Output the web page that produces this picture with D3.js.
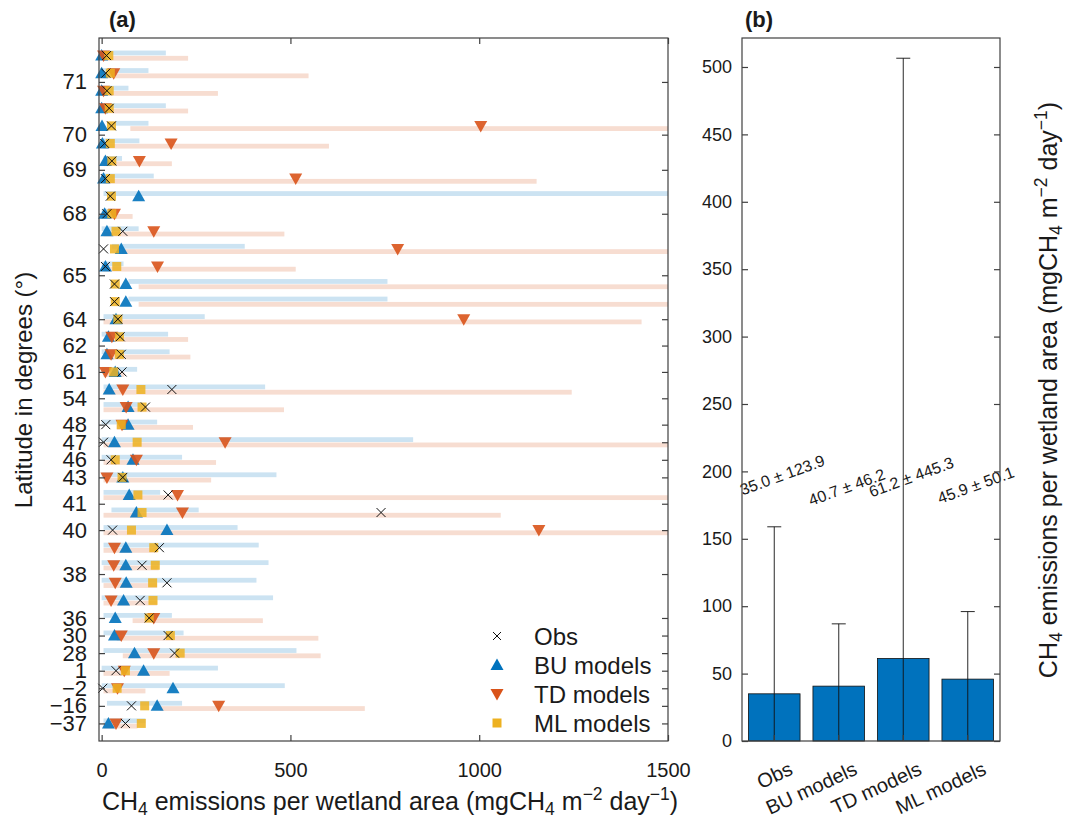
<!DOCTYPE html>
<html><head><meta charset="utf-8">
<script src="https://cdn.jsdelivr.net/npm/d3@7"></script>
<style>
body{margin:0;background:#fff}
text{font-family:"Liberation Sans",Arial,Helvetica,sans-serif;fill:#1a1a1a}
</style>
</head><body>
<svg id="c" width="1065" height="822"></svg>
<script>
// ---------- Panel (a) data: 39 sites, top to bottom ----------
const latLabels = ["71","70","69","68","65","64","62","61","54","48","47","46","43","41","40","38","36","30","28","1","\u22122","\u221216","\u221237"];
const latCounts = [4,2,2,3,4,1,2,1,2,1,1,1,1,2,1,4,1,1,1,1,1,1,1];

const obsVals = [13,11,14,20,26,8,27,10,23,14,56,5,10,34,34,43,49,52,54,186,116,11,5,25,56,176,740,29,153,107,173,102,126,176,193,38,3,79,63];
const buVals  = [0,0,0,0,1,2,10,5,98,8,14,52,10,64,64,38,18,14,36,20,70,70,34,83,56,73,92,173,64,64,65,58,36,34,87,111,189,147,18];
const tdVals  = [5,32,5,10,1004,184,100,514,null,34,138,784,148,null,null,959,27,25,10,56,65,54,327,92,14,201,214,1158,34,32,36,25,138,52,138,60,42,310,38];
const mlVals  = [19,23,20,20,26,23,27,23,26,27,38,34,40,36,36,43,47,47,32,104,107,52,94,36,54,96,107,79,138,142,135,136,126,182,208,63,41,114,105];

const buMin = [0,0,0,0,36,0,5,0,5,0,0,27,0,71,71,5,0,0,0,5,5,0,0,0,0,5,26,5,5,0,0,0,5,5,5,0,0,14,5];
const buMax = [170,124,71,170,124,100,54,138,1700,35,98,379,58,757,757,273,176,180,94,433,107,147,825,213,463,155,257,360,416,442,410,454,186,217,516,308,485,213,116];
const tdMin = [5,5,5,5,76,5,5,5,null,5,5,54,5,98,98,5,20,20,5,5,5,40,5,5,5,5,5,5,5,5,5,5,82,40,56,5,5,155,5];
const tdMax = [229,548,308,229,1700,602,186,1152,null,82,484,1700,514,1700,1700,1430,229,235,60,1245,483,242,1700,303,290,1700,1057,1700,147,151,147,147,427,574,580,180,116,697,95];

const xTicksA = [0,500,1000,1500];

// ---------- Panel (b) data ----------
const catsB  = ["Obs","BU models","TD models","ML models"];
const meansB = [35.0,40.7,61.2,45.9];
const sdsB   = [123.9,46.2,445.3,50.1];
const yTicksB = [0,50,100,150,200,250,300,350,400,450,500];

const BLUE="#0072BD", RED="#D95319", YEL="#EDB120", AX="#404040";
const svg = d3.select("#c");

// ================= Panel (a) =================
const L=99, R=668, T=38, B=741;
const xA = d3.scaleLinear().domain([-7,1500]).range([L,R]);
const yA = d3.scaleLinear().domain([0,40]).range([T,B]);

svg.append("clipPath").attr("id","clipA").append("rect")
  .attr("x",L).attr("y",T).attr("width",R-L).attr("height",B-T);

const rows = obsVals.map((d,i)=>({i:i+1,obs:d,bu:buVals[i],td:tdVals[i],ml:mlVals[i],
  b0:buMin[i],b1:buMax[i],t0:tdMin[i],t1:tdMax[i]}));

const gA = svg.append("g");
const gBars = gA.append("g").attr("clip-path","url(#clipA)");
gBars.selectAll(".bb").data(rows).join("rect")
  .attr("x",d=>xA(d.b0)).attr("width",d=>xA(d.b1)-xA(d.b0))
  .attr("y",d=>yA(d.i)-5).attr("height",4.8).attr("fill","#CCE3F2");
gBars.selectAll(".tb").data(rows.filter(d=>d.t0!==null)).join("rect")
  .attr("x",d=>xA(d.t0)).attr("width",d=>xA(d.t1)-xA(d.t0))
  .attr("y",d=>yA(d.i)+0.3).attr("height",4.8).attr("fill","#F7DDD1");

const tri = (x,y,up)=> up
  ? `M${x-6.5},${y+5}L${x+6.5},${y+5}L${x},${y-6.5}Z`
  : `M${x-6.5},${y-5}L${x+6.5},${y-5}L${x},${y+6.5}Z`;

gA.selectAll(".bu").data(rows.filter(d=>d.bu!==null)).join("path")
  .attr("d",d=>tri(xA(d.bu),yA(d.i),true)).attr("fill",BLUE).attr("fill-opacity",0.9);
gA.selectAll(".td").data(rows.filter(d=>d.td!==null)).join("path")
  .attr("d",d=>tri(xA(d.td),yA(d.i),false)).attr("fill",RED).attr("fill-opacity",0.9);
gA.selectAll(".ml").data(rows).join("rect")
  .attr("x",d=>xA(d.ml)-4.5).attr("y",d=>yA(d.i)-4.5).attr("width",9).attr("height",9)
  .attr("fill",YEL).attr("fill-opacity",0.85);
const gObs = gA.append("g").attr("stroke","#111").attr("stroke-width",1);
gObs.selectAll("path").data(rows).join("path")
  .attr("d",d=>{const x=xA(d.obs),y=yA(d.i),s=4.5;return `M${x-s},${y-s}L${x+s},${y+s}M${x-s},${y+s}L${x+s},${y-s}`;});

// tick positions: mean row index of each latitude group
let acc=0; const yTickPos=[];
latCounts.forEach(c=>{let s=0;for(let k=1;k<=c;k++)s+=acc+k;yTickPos.push(s/c);acc+=c;});

// frame
gA.append("rect").attr("x",L).attr("y",T).attr("width",R-L).attr("height",B-T)
  .attr("fill","none").attr("stroke",AX).attr("stroke-width",1.2);

const styleAxis = g=>{g.select(".domain").remove();g.selectAll("line").attr("stroke",AX).attr("stroke-width",1.2);};

gA.append("g").attr("transform",`translate(${L},0)`)
  .call(d3.axisLeft(yA).tickValues(yTickPos).tickSize(-6).tickPadding(12)
    .tickFormat((d,i)=>latLabels[i]))
  .call(styleAxis).call(g=>g.selectAll("text").attr("font-size",22).attr("fill","#1a1a1a"));
gA.append("g").attr("transform",`translate(${R},0)`)
  .call(d3.axisRight(yA).tickValues(yTickPos).tickSize(-6).tickFormat(""))
  .call(styleAxis);
gA.append("g").attr("transform",`translate(0,${B})`)
  .call(d3.axisBottom(xA).tickValues(xTicksA).tickSize(-6).tickPadding(22).tickFormat(d3.format("d")))
  .call(styleAxis).call(g=>g.selectAll("text").attr("font-size",20).attr("fill","#1a1a1a"));
gA.append("g").attr("transform",`translate(0,${T})`)
  .call(d3.axisTop(xA).tickValues(xTicksA).tickSize(-6).tickFormat(""))
  .call(styleAxis);

// axis titles (a)
svg.append("text").attr("transform","translate(32,390) rotate(-90)")
  .attr("text-anchor","middle").attr("font-size",24).text("Latitude in degrees (\u00B0)");

function unitLabel(sel){
  sel.append("tspan").text("CH");
  sel.append("tspan").attr("baseline-shift","-25%").attr("font-size","70%").text("4");
  sel.append("tspan").text(" emissions per wetland area (mgCH");
  sel.append("tspan").attr("baseline-shift","-25%").attr("font-size","70%").text("4");
  sel.append("tspan").text(" m");
  sel.append("tspan").attr("baseline-shift","super").attr("font-size","70%").text("\u22122");
  sel.append("tspan").text(" day");
  sel.append("tspan").attr("baseline-shift","super").attr("font-size","70%").text("\u22121");
  sel.append("tspan").text(")");
}
svg.append("text").attr("x",390).attr("y",810).attr("text-anchor","middle")
  .attr("font-size",25).call(unitLabel);

svg.append("text").attr("x",109).attr("y",27).attr("font-size",22).attr("font-weight","bold").text("(a)");

// legend
const legItems = [
  {k:"obs",t:"Obs"},{k:"bu",t:"BU models"},{k:"td",t:"TD models"},{k:"ml",t:"ML models"}];
const lg = svg.append("g");
legItems.forEach((it,j)=>{
  const y = 636 + j*29, x=497;
  if(it.k==="obs") lg.append("path").attr("d",`M${x-4},${y-4}L${x+4},${y+4}M${x-4},${y+4}L${x+4},${y-4}`).attr("stroke","#111");
  if(it.k==="bu") lg.append("path").attr("d",tri(x,y,true)).attr("fill",BLUE);
  if(it.k==="td") lg.append("path").attr("d",tri(x,y,false)).attr("fill",RED);
  if(it.k==="ml") lg.append("rect").attr("x",x-4.5).attr("y",y-4.5).attr("width",9).attr("height",9).attr("fill",YEL);
  lg.append("text").attr("x",534).attr("y",y).attr("dy","0.36em").attr("font-size",24).text(it.t);
});

// ================= Panel (b) =================
const L2=742, R2=1000;
const xB = d3.scaleBand().domain(catsB).range([L2,R2]).paddingInner(0.2).paddingOuter(0.1);
const yB = d3.scaleLinear().domain([0,521.5]).range([B,T]);
svg.append("clipPath").attr("id","clipB").append("rect")
  .attr("x",L2).attr("y",T).attr("width",R2-L2).attr("height",B-T);
const gB = svg.append("g");
gB.selectAll(".bar").data(catsB).join("rect")
  .attr("x",d=>xB(d)).attr("width",xB.bandwidth())
  .attr("y",(d,i)=>yB(meansB[i])).attr("height",(d,i)=>B-yB(meansB[i]))
  .attr("fill",BLUE).attr("stroke","#111").attr("stroke-width",0.8);
const gE = gB.append("g").attr("clip-path","url(#clipB)").attr("stroke","#111").attr("stroke-width",0.9);
catsB.forEach((c,i)=>{
  const cx = xB(c)+xB.bandwidth()/2, hi=meansB[i]+sdsB[i], lo=meansB[i]-sdsB[i];
  gE.append("line").attr("x1",cx).attr("x2",cx).attr("y1",yB(lo)).attr("y2",yB(hi));
  gE.append("line").attr("x1",cx-7).attr("x2",cx+7).attr("y1",yB(hi)).attr("y2",yB(hi));
  gE.append("line").attr("x1",cx-7).attr("x2",cx+7).attr("y1",yB(lo)).attr("y2",yB(lo));
});
const labYB=[475,487,477,485];
catsB.forEach((c,i)=>{
  const cx = xB(c)+xB.bandwidth()/2;
  gB.append("text").attr("transform",`translate(${cx+8},${labYB[i]}) rotate(-20)`)
    .attr("text-anchor","middle").attr("dy","0.35em").attr("font-size",16)
    .text(`${meansB[i].toFixed(1)} \u00B1 ${sdsB[i].toFixed(1)}`);
});
gB.append("rect").attr("x",L2).attr("y",T).attr("width",R2-L2).attr("height",B-T)
  .attr("fill","none").attr("stroke",AX).attr("stroke-width",1.2);
gB.append("g").attr("transform",`translate(${L2},0)`)
  .call(d3.axisLeft(yB).tickValues(yTicksB).tickSize(-6).tickPadding(10))
  .call(styleAxis).call(g=>g.selectAll("text").attr("font-size",18).attr("fill","#1a1a1a"));
gB.append("g").attr("transform",`translate(${R2},0)`)
  .call(d3.axisRight(yB).tickValues(yTicksB).tickSize(-6).tickFormat(""))
  .call(styleAxis);
gB.append("g").attr("transform",`translate(0,${B})`)
  .call(d3.axisBottom(xB).tickSize(-6).tickFormat(""))
  .call(styleAxis);
catsB.forEach(c=>{
  const cx = xB(c)+xB.bandwidth()/2;
  gB.append("text").attr("transform",`translate(${cx+14},${B+20}) rotate(-25)`)
    .attr("text-anchor","end").attr("dy","0.7em").attr("font-size",20).text(c);
});
svg.append("text").attr("x",745).attr("y",27).attr("font-size",22).attr("font-weight","bold").text("(b)");
svg.append("text").attr("transform","translate(1057,390) rotate(-90)")
  .attr("text-anchor","middle").attr("font-size",25).call(unitLabel);
</script>
</body></html>
